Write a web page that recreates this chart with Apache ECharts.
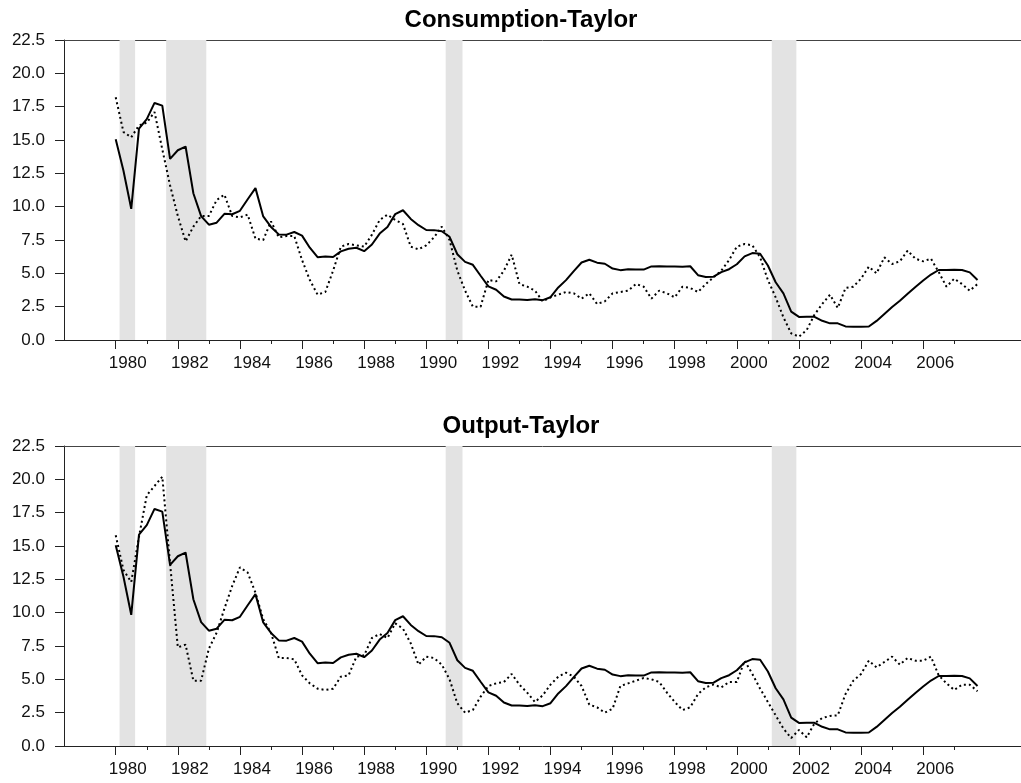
<!DOCTYPE html>
<html>
<head>
<meta charset="utf-8">
<script src="https://cdn.jsdelivr.net/npm/echarts@6/dist/echarts.min.js"></script>
<style>
  html, body { margin: 0; padding: 0; background: #fff; }
  #main { width: 1021px; height: 783px; }
</style>
</head>
<body>
<div id="main"></div>
<script>
var myChart = echarts.init(document.getElementById('main'));

// quarterly data, 1980Q1 .. 2007Q4
var startYear = 1980;

// federal funds rate (solid line, same in both panels)
var fedFunds = [
    15.05, 12.69, 9.84, 15.85,
    16.57, 17.78, 17.58, 13.59,
    14.23, 14.51, 11.01, 9.29,
    8.65, 8.80, 9.46, 9.43,
    9.69, 10.56, 11.39, 9.27,
    8.48, 7.92, 7.90, 8.10,
    7.83, 6.92, 6.21, 6.27,
    6.22, 6.65, 6.84, 6.92,
    6.66, 7.16, 7.98, 8.47,
    9.44, 9.73, 9.08, 8.61,
    8.25, 8.24, 8.16, 7.74,
    6.43, 5.86, 5.64, 4.82,
    4.02, 3.77, 3.26, 3.04,
    3.04, 3.00, 3.06, 2.99,
    3.21, 3.94, 4.49, 5.17,
    5.81, 6.02, 5.80, 5.72,
    5.36, 5.24, 5.31, 5.28,
    5.28, 5.52, 5.53, 5.51,
    5.52, 5.50, 5.53, 4.86,
    4.73, 4.75, 5.09, 5.31,
    5.68, 6.27, 6.52, 6.47,
    5.59, 4.33, 3.50, 2.13,
    1.73, 1.75, 1.74, 1.44,
    1.25, 1.25, 1.02, 1.00,
    1.00, 1.01, 1.43, 1.95,
    2.47, 2.94, 3.46, 3.98,
    4.46, 4.91, 5.25, 5.25,
    5.26, 5.25, 5.07, 4.50
];

// consumption-based Taylor rule (dotted, top panel)
var consTaylor = [
    18.2, 15.6, 15.2, 16.1,
    16.3, 17.1, 14.3, 11.6,
    9.3, 7.4, 8.5, 9.3,
    9.3, 10.5, 10.9, 9.3,
    9.2, 9.4, 7.6, 7.5,
    8.9, 7.7, 7.8, 7.8,
    6.0, 4.5, 3.4, 3.6,
    5.2, 7.0, 7.2, 7.1,
    7.0, 7.9, 9.0, 9.4,
    9.0, 8.7, 7.0, 6.8,
    7.1, 7.7, 8.5, 7.5,
    5.2, 3.7, 2.5, 2.5,
    4.5, 4.4, 5.2, 6.4,
    4.2, 4.0, 3.7, 2.9,
    3.2, 3.4, 3.6, 3.5,
    3.1, 3.5, 2.7, 2.9,
    3.5, 3.6, 3.7, 4.2,
    4.0, 3.1, 3.7, 3.5,
    3.2, 4.0, 3.9, 3.6,
    4.2, 4.7, 5.2, 6.0,
    7.0, 7.2, 7.1, 6.2,
    4.5, 3.2, 1.7, 0.5,
    0.25, 0.75, 1.9, 2.7,
    3.4, 2.4, 3.9, 4.0,
    4.6, 5.5, 5.0, 6.2,
    5.7, 5.9, 6.7, 6.1,
    5.9, 6.1, 5.1, 4.0,
    4.6, 4.2, 3.7, 4.2
];

// output-based Taylor rule (dotted, bottom panel)
var outTaylor = [
    15.8, 13.2, 12.3, 15.7,
    18.8, 19.5, 20.2, 13.7,
    7.4, 7.6, 4.9, 4.9,
    7.3, 8.5, 10.3, 12.0,
    13.4, 13.0, 11.5, 9.5,
    8.5, 6.6, 6.6, 6.5,
    5.3, 4.7, 4.3, 4.2,
    4.3, 5.2, 5.3, 6.7,
    6.8, 8.1, 8.4, 8.1,
    9.2, 8.8, 7.7, 6.1,
    6.7, 6.6, 6.1, 5.0,
    3.2, 2.5, 2.7, 3.7,
    4.5, 4.7, 4.8, 5.4,
    4.6, 4.0, 3.3, 3.8,
    4.6, 5.2, 5.5, 5.2,
    4.5, 3.1, 2.9, 2.5,
    2.8, 4.5, 4.7, 4.9,
    5.1, 5.0, 4.8, 4.0,
    3.3, 2.7, 2.9, 3.9,
    4.4, 4.6, 4.4, 4.8,
    4.8, 6.4, 5.4, 4.3,
    3.3, 2.3, 1.3, 0.6,
    1.2, 0.65, 1.7, 2.1,
    2.25, 2.3, 3.9, 4.9,
    5.4, 6.4, 5.9, 6.3,
    6.7, 6.1, 6.6, 6.4,
    6.4, 6.7, 5.3, 4.7,
    4.2, 4.6, 4.6, 4.1
];

// NBER recessions (shaded)
var recessions = [
    [1980.125, 1980.625],
    [1981.625, 1982.917],
    [1990.625, 1991.167],
    [2001.125, 2001.917]
];

var titles = ['Consumption-Taylor', 'Output-Taylor'];
var majorYears = [1980, 1982, 1984, 1986, 1988, 1990, 1992, 1994, 1996, 1998, 2000, 2002, 2004, 2006];
var minorYears = [1981, 1983, 1985, 1987, 1989, 1991, 1993, 1995, 1997, 1999, 2001, 2003, 2005, 2007];

function toPairs(arr) {
    return arr.map(function (v, i) {
        return [startYear + i / 4, v];
    });
}

var xMin = 1978.335, xMax = 2009.15;
var gridTops = [40, 446];
var axisColor = '#222';
var font = 'Liberation Sans, Arial, sans-serif';

var grids = [], xAxes = [], yAxes = [], series = [], titleOpts = [];
gridTops.forEach(function (top, g) {
    grids.push({ left: 64, right: 0, top: top, height: 300 });
    titleOpts.push({
        text: titles[g],
        left: 521,
        textAlign: 'center',
        top: top - 32,
        padding: 0,
        textStyle: { fontFamily: font, fontSize: 24, fontWeight: 'bold', color: '#000' }
    });
    // main x axis with labelled (even-year) ticks
    xAxes.push({
        type: 'value', gridIndex: g, min: xMin, max: xMax, position: 'bottom',
        splitLine: { show: false },
        axisLine: { show: true, onZero: false, lineStyle: { color: axisColor, width: 1 } },
        axisTick: { show: true, customValues: majorYears, length: 9, lineStyle: { color: axisColor } },
        axisLabel: {
            show: true, customValues: majorYears, margin: 15,
            formatter: function (v) { return String(Math.round(v)); },
            padding: [0, 0, 0, 24],
            fontFamily: font, fontSize: 17, color: '#111'
        }
    });
    // minor odd-year ticks
    xAxes.push({
        type: 'value', gridIndex: g, min: xMin, max: xMax, position: 'bottom',
        splitLine: { show: false },
        axisLine: { show: false },
        axisTick: { show: true, customValues: minorYears, length: 4, lineStyle: { color: axisColor } },
        axisLabel: { show: false }
    });
    // top frame line
    xAxes.push({
        type: 'value', gridIndex: g, min: xMin, max: xMax, position: 'top',
        splitLine: { show: false },
        axisLine: { show: true, onZero: false, lineStyle: { color: '#444', width: 1 } },
        axisTick: { show: false },
        axisLabel: { show: false }
    });
    yAxes.push({
        type: 'value', gridIndex: g, min: 0, max: 22.5, interval: 2.5,
        splitLine: { show: false },
        axisLine: { show: true, lineStyle: { color: axisColor, width: 1 } },
        axisTick: { show: true, length: 9, lineStyle: { color: axisColor } },
        axisLabel: {
            margin: 19,
            formatter: function (v) { return v.toFixed(1); },
            fontFamily: font, fontSize: 17, color: '#111'
        }
    });
    series.push({
        type: 'line', xAxisIndex: g * 3, yAxisIndex: g,
        data: toPairs(g === 0 ? consTaylor : outTaylor),
        showSymbol: false, silent: true,
        lineStyle: { color: '#000', width: 2, type: [2, 3] },
        markArea: {
            silent: true,
            itemStyle: { color: '#e3e3e3', opacity: 1 },
            data: recessions.map(function (r) {
                return [{ xAxis: r[0] }, { xAxis: r[1] }];
            })
        }
    });
    series.push({
        type: 'line', xAxisIndex: g * 3, yAxisIndex: g,
        data: toPairs(fedFunds),
        showSymbol: false, silent: true,
        lineStyle: { color: '#000', width: 2 }
    });
});

var option = {
    animation: false,
    backgroundColor: '#fff',
    title: titleOpts,
    grid: grids,
    xAxis: xAxes,
    yAxis: yAxes,
    series: series
};

myChart.setOption(option);
</script>
</body>
</html>
